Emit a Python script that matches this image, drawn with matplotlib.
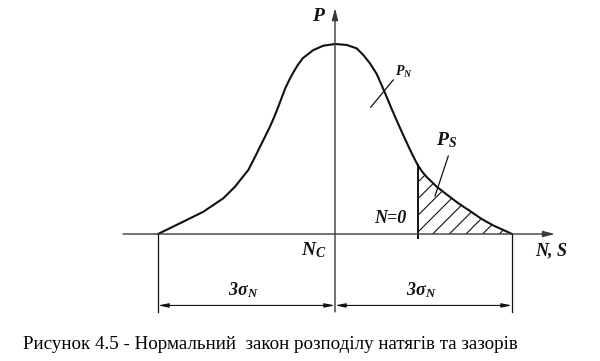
import matplotlib
matplotlib.use("Agg")
import matplotlib.pyplot as plt

plt.rcParams['mathtext.fontset'] = 'custom'
plt.rcParams['mathtext.bf'] = 'Liberation Serif:italic:bold'
plt.rcParams['mathtext.rm'] = 'Liberation Serif'
plt.rcParams['mathtext.it'] = 'Liberation Serif:italic'
plt.rcParams['hatch.linewidth'] = 0.8

# ---- data (x in sigma units, y relative to peak) ----
curve_x = [-3.0, -2.571, -2.232, -1.893, -1.695, -1.593, -1.469, -1.368, -1.271,
           -1.186, -1.102, -1.029, -0.961, -0.903, -0.847, -0.780, -0.707, -0.636,
           -0.547, -0.368, -0.198, 0.0,
           0.198, 0.368, 0.480, 0.593, 0.707, 0.819, 0.961, 1.102, 1.242, 1.327,
           1.402, 1.475, 1.554, 1.724, 1.893, 2.085, 2.288, 2.486, 2.683, 2.910, 3.0]
curve_y = [0.0, 0.065, 0.117, 0.188, 0.249, 0.289, 0.337, 0.398, 0.459,
           0.512, 0.565, 0.617, 0.670, 0.718, 0.764, 0.808, 0.850, 0.887,
           0.925, 0.968, 0.991, 1.0,
           0.995, 0.977, 0.942, 0.898, 0.842, 0.763, 0.658, 0.558, 0.463, 0.408,
           0.363, 0.329, 0.300, 0.249, 0.208, 0.163, 0.121, 0.079, 0.045, 0.013, 0.0]
n_zero = 1.402          # position of N = 0 (boundary of the hatched area)
three_sigma = 3.0

ps_leader_x = [1.920, 1.695]
ps_leader_y = [0.410, 0.200]
pn_leader_x = [0.988, 0.605]
pn_leader_y = [0.811, 0.667]

caption = "Рисунок 4.5 - Нормальний  закон розподілу натягів та зазорів"

# ---- figure ----
fig = plt.figure(figsize=(6.0, 3.61), dpi=100)
ax = fig.add_axes([0, 0, 1, 1])
ax.set_xlim(-335 / 59, 265 / 59)
ax.set_ylim(-127 / 190, 234 / 190)
ax.axis('off')

ink = '#111111'
axis_c = '#3a3a3a'

# curve
ax.plot(curve_x, curve_y, color=ink, lw=1.5, solid_capstyle='round',
        solid_joinstyle='round', zorder=3)

# hatched tail
i0 = curve_x.index(n_zero)
hx = curve_x[i0:]
hy = curve_y[i0:]
ax.fill_between(hx, 0, hy, facecolor='none', edgecolor=ink, hatch='//', linewidth=0, zorder=2)
ax.plot([n_zero, n_zero], [-0.02, hy[0]], color=ink, lw=1.4, zorder=3)

# axes with arrows
ax.annotate('', xy=(3.729, 0), xytext=(-3.593, 0),
            arrowprops=dict(arrowstyle='-|>,head_length=0.7,head_width=0.18',
                            color=axis_c, lw=1.0, shrinkA=0, shrinkB=0))
ax.annotate('', xy=(0, 1.189), xytext=(0, -0.41),
            arrowprops=dict(arrowstyle='-|>,head_length=0.7,head_width=0.18',
                            color=axis_c, lw=1.0, shrinkA=0, shrinkB=0))

# extension lines
for xx in (-three_sigma, three_sigma):
    ax.plot([xx, xx], [0, -0.41], color=ink, lw=0.9)

# dimension lines
dim_y = -0.376
for a, b in ((-three_sigma, 0), (0, three_sigma)):
    ax.annotate('', xy=(b, dim_y), xytext=(a, dim_y),
                arrowprops=dict(arrowstyle='<|-|>,head_length=0.6,head_width=0.12',
                                color=ink, lw=0.8, shrinkA=0, shrinkB=0))

# leaders
ax.plot(ps_leader_x, ps_leader_y, color=ink, lw=0.9)
ax.plot(pn_leader_x, pn_leader_y, color=ink, lw=0.9)

lab = dict(family='Liberation Serif', style='italic', weight='bold', color=ink)
ax.text(-0.288, 1.147, 'P', fontsize=14, ha='center', va='center', **lab)
ax.text(1.169, 0.853, r'$\mathbf{P_N}$', fontsize=10, ha='center', va='center', color=ink)
ax.text(1.898, 0.495, r'$\mathbf{P_S}$', fontsize=14, ha='center', va='center', color=ink)
ax.text(0.932, 0.079, 'N=0', fontsize=13, ha='center', va='center', **lab)
ax.text(-0.356, -0.084, r'$\mathbf{N_C}$', fontsize=14, ha='center', va='center', color=ink)
ax.text(3.661, -0.089, 'N, S', fontsize=13, ha='center', va='center', **lab)
ax.text(-1.559, -0.295, r'$\mathbf{3}\mathrm{\mathbf{σ}}_{\mathbf{N}}$', fontsize=13, ha='center', va='center', color=ink)
ax.text(1.458, -0.295, r'$\mathbf{3}\mathrm{\mathbf{σ}}_{\mathbf{N}}$', fontsize=13, ha='center', va='center', color=ink)

fig.text(23 / 600, 1 - 349 / 361, caption, family='Liberation Serif', fontsize=13.7,
         ha='left', va='baseline', color='black')

fig.savefig('out.png', dpi=100)
